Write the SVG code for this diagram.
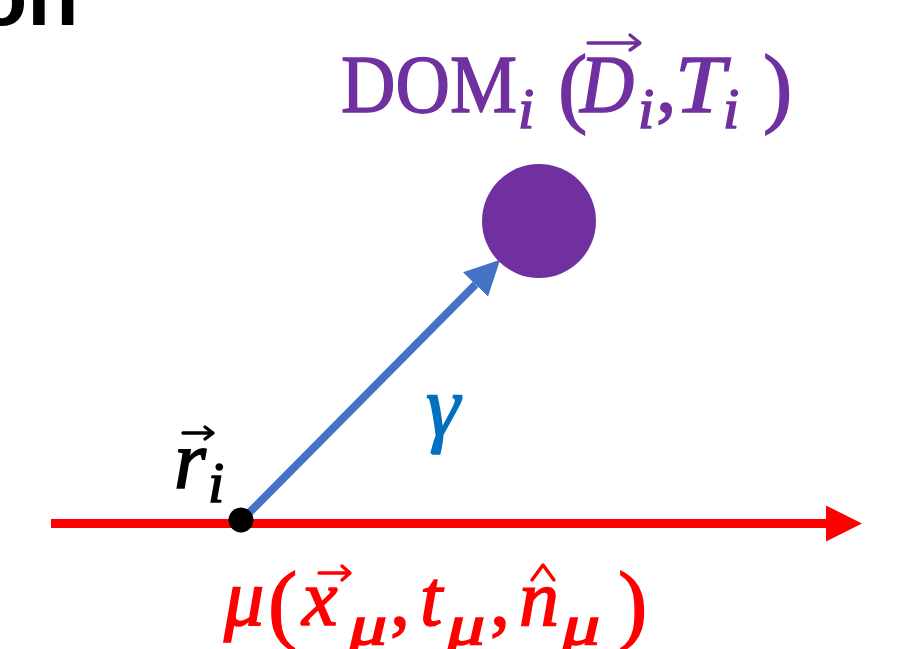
<svg xmlns="http://www.w3.org/2000/svg" width="910" height="649" viewBox="0 0 910 649">
<style>
.m{font-family:"Liberation Serif","DejaVu Serif",serif;font-style:italic;stroke-width:1.6;}
.u{font-family:"Liberation Serif","DejaVu Serif",serif;font-style:normal;stroke-width:1.4;}
.purple{fill:#7030A0;stroke:#7030A0;}
.red{fill:#FF0000;stroke:#FF0000;}
.blk{fill:#000000;stroke:#000000;}
.blue{fill:#0070C0;stroke:#0070C0;}
.acc{fill:none;stroke-width:3.4;stroke-linecap:round;stroke-linejoin:round;}
</style>
<defs>
<marker id="hb" viewBox="0 0 35 35" refX="0" refY="17.5" markerWidth="35" markerHeight="35" markerUnits="userSpaceOnUse" orient="auto">
<path d="M0,0 L35,17.5 L0,35 z" fill="#4472C4"/>
</marker>
<marker id="hr" viewBox="0 0 36 36" refX="0" refY="18" markerWidth="36" markerHeight="36" markerUnits="userSpaceOnUse" orient="auto">
<path d="M0,0 L36,18 L0,36 z" fill="#FF0000"/>
</marker>
</defs>
<rect width="910" height="649" fill="#ffffff"/>
<text x="-24" y="25" font-family="Liberation Sans, Arial, sans-serif" font-weight="bold" font-size="84" fill="#000">on</text>
<g id="connectors">
<line x1="51" y1="523.5" x2="826" y2="523.5" stroke="#FF0000" stroke-width="9" marker-end="url(#hr)"/>
<line x1="242" y1="520" x2="475.5" y2="284.5" stroke="#4472C4" stroke-width="8" marker-end="url(#hb)"/>
</g>
<g id="dom">
<circle cx="539" cy="221" r="57" fill="#7030A0"/>
<text class="u purple" x="341" y="112" font-size="82" textLength="176" lengthAdjust="spacingAndGlyphs">DOM</text>
<text class="m purple" x="518" y="128" font-size="58">i</text>
<text class="u purple" x="558" y="116" font-size="88">(</text>
<text class="m purple" x="580" y="112" font-size="82" textLength="54" lengthAdjust="spacingAndGlyphs">D</text>
<path class="acc" stroke="#7030A0" d="M588,43 L639,43 M630,35 L640,43 L630,50"/>
<text class="m purple" x="638" y="128" font-size="58">i</text>
<text class="u purple" x="656" y="112" font-size="82">,</text>
<text class="m purple" x="675" y="112" font-size="82" textLength="50" lengthAdjust="spacingAndGlyphs">T</text>
<text class="m purple" x="723" y="128" font-size="58">i</text>
<text class="u purple" x="763" y="116" font-size="88">)</text>
</g>
<g id="r-point">
<circle cx="241" cy="520" r="12.5" fill="#000"/>
<text class="m blk" x="174" y="488" font-size="82">r</text>
<path class="acc" stroke="#000" d="M183,433 L212,433 M205,427 L213,433 L205,439"/>
<text class="m blk" x="208" y="502" font-size="58">i</text>
</g>
<g id="gamma">
<text class="m blue" x="426" y="435" font-size="86">γ</text>
</g>
<g id="muon">
<text class="m red" x="224" y="625" font-size="80">μ</text>
<text class="u red" x="268" y="633" font-size="88">(</text>
<text class="m red" x="302" y="625" font-size="80">x</text>
<path class="acc" stroke="#FF0000" d="M319,573 L349,573 M342,566 L350,573 L342,580"/>
<text class="m red" x="349" y="644" font-size="56" textLength="38" lengthAdjust="spacingAndGlyphs">μ</text>
<text class="u red" x="390" y="625" font-size="80">,</text>
<text class="m red" x="420" y="625" font-size="80">t</text>
<text class="m red" x="447" y="644" font-size="56" textLength="38" lengthAdjust="spacingAndGlyphs">μ</text>
<text class="u red" x="490" y="625" font-size="80">,</text>
<text class="m red" x="519" y="625" font-size="80">n</text>
<path class="acc" stroke="#FF0000" d="M532,580 L543,565 L554,580"/>
<text class="m red" x="562" y="644" font-size="56" textLength="38" lengthAdjust="spacingAndGlyphs">μ</text>
<text class="u red" x="618" y="633" font-size="88">)</text>
</g>
</svg>
